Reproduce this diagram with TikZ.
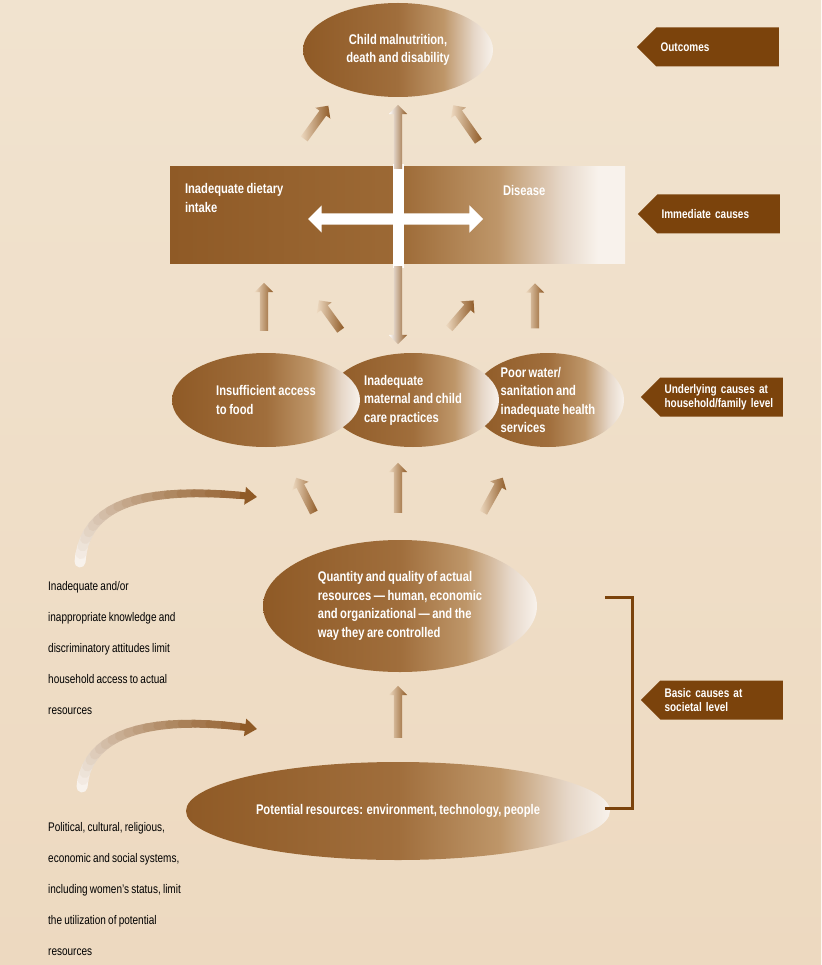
\documentclass[tikz,border=0pt]{standalone}
\usepackage{fontspec}
\newfontfamily\cond[FakeStretch=0.8,WordSpace=0.8]{Liberation Sans}
\usepackage{tikz}
\usetikzlibrary{arrows.meta,positioning,calc,shapes.geometric,shapes.arrows,shapes.symbols}
\usepackage{xcolor}
\definecolor{Sand}{HTML}{EDD9C0}
\definecolor{SandTop}{HTML}{F1E3CF}
\definecolor{Brown}{HTML}{8F5A26}
\definecolor{Umber}{HTML}{7B430C}
\definecolor{Tan}{HTML}{A06E3C}
\definecolor{Cocoa}{HTML}{9C6935}
\definecolor{Camel}{HTML}{BE9669}
\definecolor{Cream}{HTML}{E6D7C8}
\definecolor{Milk}{HTML}{F8F2EC}
%fade from brown (left) to white (right), path bbox sits in 25bp..75bp
\pgfdeclarehorizontalshading{ovalFade}{100bp}{color(0bp)=(Brown); color(25bp)=(Brown); color(50bp)=(Tan); color(62bp)=(Camel); color(70bp)=(Cream); color(75bp)=(Milk); color(100bp)=(Milk)}
\pgfdeclarehorizontalshading{boxFade}{100bp}{color(0bp)=(Brown); color(25bp)=(Brown); color(50bp)=(Cocoa); color(61bp)=(Camel); color(68bp)=(Cream); color(72bp)=(Milk); color(100bp)=(Milk)}

\begin{document}
\begin{tikzpicture}[
        %Environment Cfg.
        x=1pt, y=-1pt,
        font=\cond,
        %Environment Styles.
        cBox/.style={
            ellipse,
            inner sep=0pt,
            shading=ovalFade,
            text=white,
            align=left,
            minimum height=94pt,
            font=\cond\bfseries\fontsize{14}{18.5}\selectfont
        },
        lBox/.style={
            signal,
            signal to=west,
            fill=Umber,
            text=white,
            text width=114pt,
            align=left,
            minimum width=142pt,
            minimum height=39pt,
            inner sep=0pt,
            anchor=east,
            font=\cond\bfseries\fontsize{12.5}{14}\selectfont
        },
        fArr/.style={
            single arrow,
            inner sep=0pt,
            text height=4pt,
            text depth=4pt,
            minimum width=18pt,
            single arrow head extend=5pt,
            minimum height=#1,
            left color=Sand,
            right color=Brown
        },
        wTxt/.style={
            text=white,
            align=left,
            inner sep=0pt,
            anchor=north west,
            font=\cond\bfseries\fontsize{14}{19}\selectfont
        },
        bTxt/.style={
            text=black,
            align=left,
            inner sep=0pt,
            anchor=north west,
            font=\cond\fontsize{12.5}{31}\selectfont
        },
    ]
    %Fading curved arrow: \Swoosh{name}{start}{control 1}{control 2}{tip}
    \def\Swoosh#1#2#3#4#5{
        \path (#2) .. controls (#3) and (#4) .. (#5)
            \foreach \i in {0,...,20}{coordinate[pos=\i/20] (#1-\i)};
        \foreach \i [evaluate=\i as \j using int(\i+1),
                     evaluate=\i as \m using int(5*\i),
                     evaluate=\i as \w using 11-0.2*\i] in {0,...,18}
            \draw[line width=\w pt, line cap=round, Brown!\m!Milk] (#1-\i) -- (#1-\j);
        \draw[line width=7pt, Brown, -{Triangle[width=17pt,length=12pt]}] (#1-19) -- (#1-20);
    }

    %Background.
    \useasboundingbox (0,0) rectangle (821,965);
    \shade[top color=SandTop, bottom color=Sand] (0,0) rectangle (821,965);

    %Outcomes.
    \node[cBox, minimum width=190pt, align=center] (OUT) at (398,50)
        {Child malnutrition,\\death and disability};
    \node[fArr=41pt, rotate=54] (A-OL) at (315,124) {};
    \node[fArr=44pt, rotate=125] (A-OR) at (467,125) {};

    %Immediate causes.
    \node[rectangle, shading=boxFade, minimum width=455pt, minimum height=97pt] (IMM) at (397.5,215.5) {};
    \node[wTxt] (DIET) at ([xshift=15pt,yshift=-16pt]IMM.north west) {Inadequate dietary\\intake};
    \node[wTxt] (DIS) at ([xshift=333pt,yshift=-18pt]IMM.north west) {Disease};
    \node[rectangle, fill=white, inner sep=0pt, minimum width=11pt, minimum height=104pt] (BAND) at (398,216) {};
    \node[double arrow, fill=white, inner sep=0pt, text height=5.5pt, text depth=5.5pt, minimum width=27pt,
          double arrow head extend=8pt, minimum height=175pt] (LINK) at (395.5,219) {};
    \node[fArr=64pt, left color=white, rotate=90] (A-UP) at (398,139) {};
    \node[fArr=78pt, left color=white, rotate=-90] (A-DN) at (398,303) {};

    %Underlying causes.
    \node[cBox, minimum width=152pt] (WATER) at (548,400)
        {Poor water/\\sanitation and\\inadequate health\\services};
    \node[cBox, minimum width=172pt] (CARE) at (413,400)
        {Inadequate\\maternal and child\\care practices};
    \node[cBox, minimum width=188pt] (FOOD) at (266,400)
        {Insufficient access\\to food};
    \node[fArr=48pt, rotate=90] (B-1) at (264,309) {};
    \node[fArr=37pt, rotate=126] (B-2) at (331,317) {};
    \node[fArr=37pt, rotate=49] (B-4) at (460,316) {};
    \node[fArr=45pt, rotate=90] (B-5) at (535,308) {};

    %Basic causes.
    \node[fArr=39pt, rotate=117] (C-1) at (306,497) {};
    \node[fArr=50pt, rotate=90] (C-2) at (398,490) {};
    \node[fArr=40pt, rotate=61] (C-3) at (492,497) {};
    \node[cBox, minimum width=274pt, minimum height=132pt] (ACT) at (400,606)
        {Quantity and quality of actual\\resources — human, economic\\and organizational — and the\\way they are controlled};
    \node[fArr=52pt, rotate=90] (D-1) at (398,714) {};
    \node[cBox, minimum width=424pt, minimum height=98pt] (POT) at (398,811)
        {Potential resources: environment, technology, people};

    \Swoosh{SW-up}{80,562}{84,505}{140,484}{257,497}
    \Swoosh{SW-lo}{82,787}{86,737}{142,712}{257,729}
    \node[bTxt] (KNOW) at (48,581)
        {Inadequate and/or\\inappropriate knowledge and\\discriminatory attitudes limit\\household access to actual\\resources};
    \node[bTxt] (SYS) at (48,822)
        {Political, cultural, religious,\\economic and social systems,\\including women’s status, limit\\the utilization of potential\\resources};

    %Level tags.
    \node[lBox] (T-OUT) at (779,47) {Outcomes};
    \node[lBox] (T-IMM) at (780,214) {Immediate causes};
    \node[lBox] (T-UND) at (783,397) {Underlying causes at\\household/family level};
    \node[lBox] (T-BAS) at (783,700) {Basic causes at\\societal level};
    \coordinate (BR-top) at (605,597);
    \coordinate (BR-bot) at (605,808);
    \draw[Umber, line width=3pt] (BR-top) -- ++(27,0) |- (BR-bot);

\end{tikzpicture}
\end{document}
